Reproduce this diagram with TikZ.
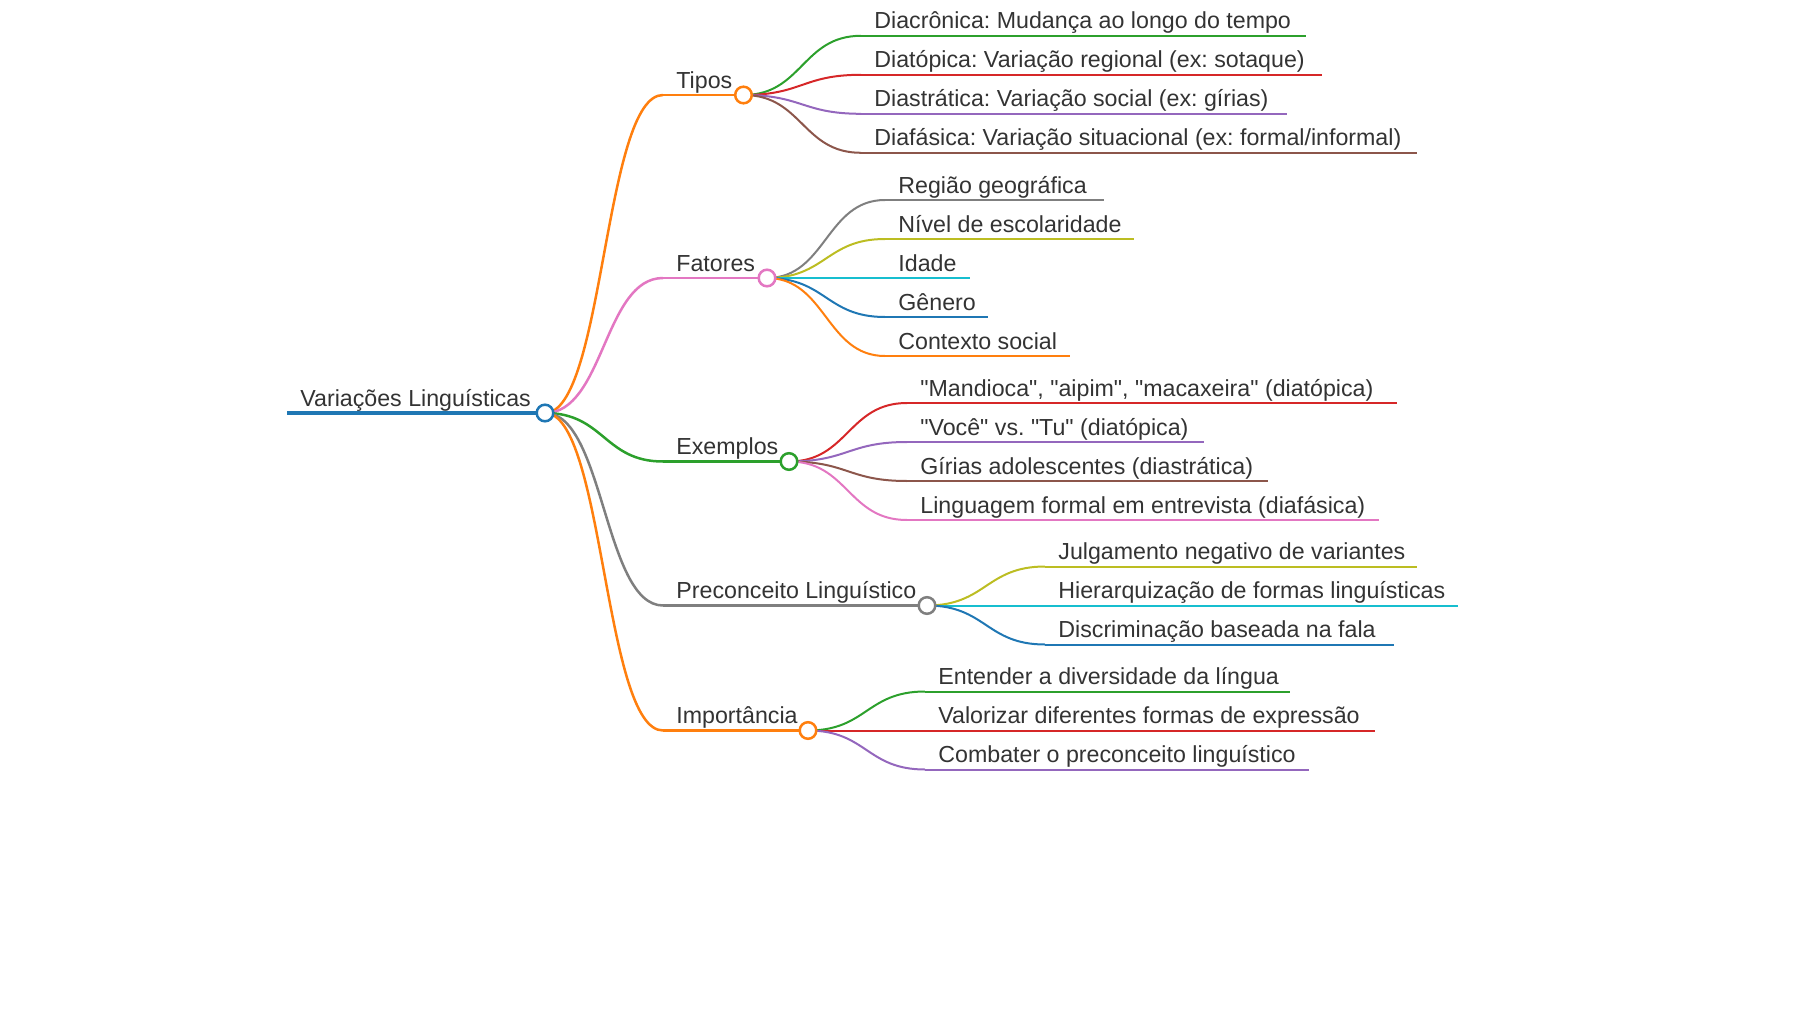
\documentclass[tikz,border=0pt]{standalone}
\usepackage{fontspec}
\setmainfont{Liberation Sans}[Ligatures=TeXOff]
\usetikzlibrary{calc}
\definecolor{cblue}{HTML}{1F77B4}
\definecolor{corange}{HTML}{FF7F0E}
\definecolor{cgreen}{HTML}{2CA02C}
\definecolor{cred}{HTML}{D62728}
\definecolor{cpurple}{HTML}{9467BD}
\definecolor{cbrown}{HTML}{8C564B}
\definecolor{cpink}{HTML}{E377C2}
\definecolor{cgray}{HTML}{7F7F7F}
\definecolor{colive}{HTML}{BCBD22}
\definecolor{ccyan}{HTML}{17BECF}
\definecolor{txt}{HTML}{333333}
\frenchspacing
\begin{document}
\begin{tikzpicture}[x=0.5pt,y=-0.5pt,
  link/.style={to path={let \p1=(\tikztostart),\p2=(\tikztotarget) in .. controls ({(\x1+\x2)/2},\y1) and ({(\x1+\x2)/2},\y2) .. (\tikztotarget)}},
  lab/.style={anchor=base west, inner sep=0pt, text=txt, font=\fontsize{11.6}{14}\selectfont},
  dot/.style={circle, draw=#1, fill=white, line width=1.25pt, inner sep=0pt, minimum size=8.3pt},
  w0/.style={line width=1.75pt},
  w1/.style={line width=1.25pt},
  w2/.style={line width=1pt}
]
\useasboundingbox (0,0) rectangle (1800,1012);

% root
\coordinate (r0) at (287,413);
\coordinate (rC) at (545,413);

% level 1
\coordinate (tS) at (663,95);    \coordinate (tC) at (743.5,95);
\coordinate (fS) at (663,278);   \coordinate (fC) at (767,278);
\coordinate (eS) at (663,461.5); \coordinate (eC) at (789,461.5);
\coordinate (pS) at (663,605.5); \coordinate (pC) at (927,605.5);
\coordinate (iS) at (663,730.5); \coordinate (iC) at (808,730.5);

% level 2: Tipos
\coordinate (t1S) at (861,35.8);  \coordinate (t1E) at (1306,35.8);
\coordinate (t2S) at (861,74.8);  \coordinate (t2E) at (1322,74.8);
\coordinate (t3S) at (861,113.8); \coordinate (t3E) at (1287,113.8);
\coordinate (t4S) at (861,152.8); \coordinate (t4E) at (1417,152.8);
% Fatores
\coordinate (f1S) at (885,200); \coordinate (f1E) at (1104,200);
\coordinate (f2S) at (885,239); \coordinate (f2E) at (1134,239);
\coordinate (f3S) at (885,278); \coordinate (f3E) at (970,278);
\coordinate (f4S) at (885,317); \coordinate (f4E) at (988,317);
\coordinate (f5S) at (885,356); \coordinate (f5E) at (1070,356);
% Exemplos
\coordinate (e1S) at (907,403); \coordinate (e1E) at (1397,403);
\coordinate (e2S) at (907,442); \coordinate (e2E) at (1204,442);
\coordinate (e3S) at (907,481); \coordinate (e3E) at (1268,481);
\coordinate (e4S) at (907,520); \coordinate (e4E) at (1379,520);
% Preconceito
\coordinate (p1S) at (1045,566.5); \coordinate (p1E) at (1417,566.5);
\coordinate (p2S) at (1045,605.5); \coordinate (p2E) at (1458,605.5);
\coordinate (p3S) at (1045,644.5); \coordinate (p3E) at (1394,644.5);
% Importancia
\coordinate (i1S) at (925,691.5); \coordinate (i1E) at (1290,691.5);
\coordinate (i2S) at (925,730.5); \coordinate (i2E) at (1375,730.5);
\coordinate (i3S) at (925,769.5); \coordinate (i3E) at (1309,769.5);

% links root -> level 1
\draw[w1,corange] (rC) to[link] (tS);
\draw[w1,cpink]   (rC) to[link] (fS);
\draw[w1,cgreen]  (rC) to[link] (eS);
\draw[w1,cgray]   (rC) to[link] (pS);
\draw[w1,corange] (rC) to[link] (iS);

% links level 1 -> level 2
\draw[w2,cgreen]  (tC) to[link] (t1S);
\draw[w2,cred]    (tC) to[link] (t2S);
\draw[w2,cpurple] (tC) to[link] (t3S);
\draw[w2,cbrown]  (tC) to[link] (t4S);
\draw[w2,cgray]   (fC) to[link] (f1S);
\draw[w2,colive]  (fC) to[link] (f2S);
\draw[w2,ccyan]   (fC) to[link] (f3S);
\draw[w2,cblue]   (fC) to[link] (f4S);
\draw[w2,corange] (fC) to[link] (f5S);
\draw[w2,cred]    (eC) to[link] (e1S);
\draw[w2,cpurple] (eC) to[link] (e2S);
\draw[w2,cbrown]  (eC) to[link] (e3S);
\draw[w2,cpink]   (eC) to[link] (e4S);
\draw[w2,colive]  (pC) to[link] (p1S);
\draw[w2,ccyan]   (pC) to[link] (p2S);
\draw[w2,cblue]   (pC) to[link] (p3S);
\draw[w2,cgreen]  (iC) to[link] (i1S);
\draw[w2,cred]    (iC) to[link] (i2S);
\draw[w2,cpurple] (iC) to[link] (i3S);

% underlines
\draw[w0,cblue] (r0) -- (rC);
\draw[w1,corange] (tS) -- (tC);
\draw[w1,cpink]   (fS) -- (fC);
\draw[w1,cgreen]  (eS) -- (eC);
\draw[w1,cgray]   (pS) -- (pC);
\draw[w1,corange] (iS) -- (iC);
\draw[w2,cgreen]  (t1S) -- (t1E);
\draw[w2,cred]    (t2S) -- (t2E);
\draw[w2,cpurple] (t3S) -- (t3E);
\draw[w2,cbrown]  (t4S) -- (t4E);
\draw[w2,cgray]   (f1S) -- (f1E);
\draw[w2,colive]  (f2S) -- (f2E);
\draw[w2,ccyan]   (f3S) -- (f3E);
\draw[w2,cblue]   (f4S) -- (f4E);
\draw[w2,corange] (f5S) -- (f5E);
\draw[w2,cred]    (e1S) -- (e1E);
\draw[w2,cpurple] (e2S) -- (e2E);
\draw[w2,cbrown]  (e3S) -- (e3E);
\draw[w2,cpink]   (e4S) -- (e4E);
\draw[w2,colive]  (p1S) -- (p1E);
\draw[w2,ccyan]   (p2S) -- (p2E);
\draw[w2,cblue]   (p3S) -- (p3E);
\draw[w2,cgreen]  (i1S) -- (i1E);
\draw[w2,cred]    (i2S) -- (i2E);
\draw[w2,cpurple] (i3S) -- (i3E);

% circles
\node[dot=cblue]   (rDot) at (rC) {};
\node[dot=corange] (tDot) at (tC) {};
\node[dot=cpink]   (fDot) at (fC) {};
\node[dot=cgreen]  (eDot) at (eC) {};
\node[dot=cgray]   (pDot) at (pC) {};
\node[dot=corange] (iDot) at (iC) {};

% labels
\node[lab] (rT) at ($(r0)+(13,-7)$) {Variações Linguísticas};
\node[lab] (tT) at ($(tS)+(13,-7)$) {Tipos};
\node[lab] (fT) at ($(fS)+(13,-7)$) {Fatores};
\node[lab] (eT) at ($(eS)+(13,-7)$) {Exemplos};
\node[lab] (pT) at ($(pS)+(13,-7)$) {Preconceito Linguístico};
\node[lab] (iT) at ($(iS)+(13,-7)$) {Importância};

\node[lab] (t1T) at ($(t1S)+(13,-7)$) {Diacrônica: Mudança ao longo do tempo};
\node[lab] (t2T) at ($(t2S)+(13,-7)$) {Diatópica: Variação regional (ex: sotaque)};
\node[lab] (t3T) at ($(t3S)+(13,-7)$) {Diastrática: Variação social (ex: gírias)};
\node[lab] (t4T) at ($(t4S)+(13,-7)$) {Diafásica: Variação situacional (ex: formal/informal)};

\node[lab] (f1T) at ($(f1S)+(13,-7)$) {Região geográfica};
\node[lab] (f2T) at ($(f2S)+(13,-7)$) {Nível de escolaridade};
\node[lab] (f3T) at ($(f3S)+(13,-7)$) {Idade};
\node[lab] (f4T) at ($(f4S)+(13,-7)$) {Gênero};
\node[lab] (f5T) at ($(f5S)+(13,-7)$) {Contexto social};

\node[lab] (e1T) at ($(e1S)+(13,-7)$) {"Mandioca", "aipim", "macaxeira" (diatópica)};
\node[lab] (e2T) at ($(e2S)+(13,-7)$) {"Você" vs. "Tu" (diatópica)};
\node[lab] (e3T) at ($(e3S)+(13,-7)$) {Gírias adolescentes (diastrática)};
\node[lab] (e4T) at ($(e4S)+(13,-7)$) {Linguagem formal em entrevista (diafásica)};

\node[lab] (p1T) at ($(p1S)+(13,-7)$) {Julgamento negativo de variantes};
\node[lab] (p2T) at ($(p2S)+(13,-7)$) {Hierarquização de formas linguísticas};
\node[lab] (p3T) at ($(p3S)+(13,-7)$) {Discriminação baseada na fala};

\node[lab] (i1T) at ($(i1S)+(13,-7)$) {Entender a diversidade da língua};
\node[lab] (i2T) at ($(i2S)+(13,-7)$) {Valorizar diferentes formas de expressão};
\node[lab] (i3T) at ($(i3S)+(13,-7)$) {Combater o preconceito linguístico};
\end{tikzpicture}
\end{document}
